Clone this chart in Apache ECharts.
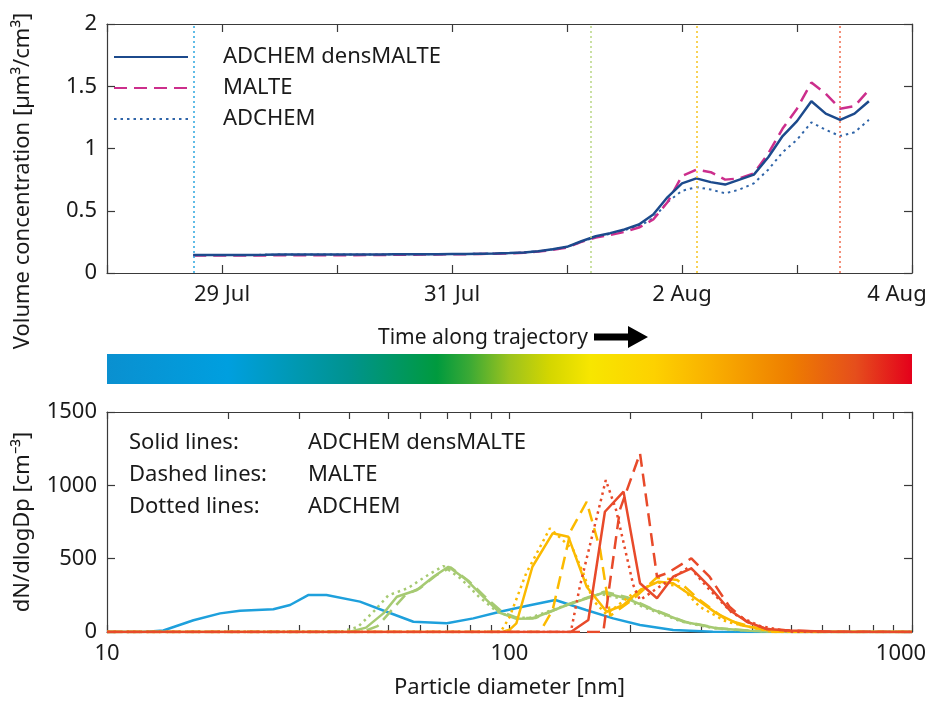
<!DOCTYPE html>
<html>
<head>
<meta charset="utf-8">
<script src="https://cdn.jsdelivr.net/npm/echarts@6/dist/echarts.min.js"></script>
<style>html,body{margin:0;background:#fff}#main{width:933px;height:704px}</style>
</head>
<body>
<div id="main"></div>
<script>
var chart = echarts.init(document.getElementById('main'));
var FONT = 'Noto Sans';
var TXT = '#1a1a1a';
var AX = '#3a3a3a';

// ---- top panel: time in hours since 28 Jul 00:00
var hours = [18,21,24,27,30,33,36,39,42,45,48,51,54,57,60,63,66,69,72,75,
             78,81,84,87,90,93,96,99,102,105,108,111,114,117,120,123,126,129,132,135,
             138,141,144,147,150,153,156,159];
var densMalte = [0.145,0.145,0.145,0.145,0.145,0.146,0.148,0.148,0.148,0.148,
                 0.148,0.148,0.148,0.149,0.150,0.151,0.151,0.151,0.152,0.153,
                 0.155,0.157,0.160,0.165,0.175,0.190,0.210,0.255,0.295,0.320,
                 0.350,0.390,0.470,0.610,0.720,0.760,0.730,0.710,0.750,0.790,
                 0.930,1.100,1.220,1.380,1.280,1.230,1.280,1.380];
var malte = [0.140,0.140,0.140,0.140,0.140,0.141,0.143,0.143,0.143,0.143,
             0.143,0.143,0.144,0.145,0.146,0.147,0.148,0.149,0.150,0.151,
             0.153,0.155,0.158,0.163,0.172,0.185,0.205,0.250,0.285,0.305,
             0.330,0.365,0.430,0.570,0.780,0.830,0.810,0.750,0.760,0.800,
             0.960,1.160,1.320,1.530,1.440,1.320,1.340,1.470];
var adchem = [0.145,0.145,0.145,0.145,0.145,0.146,0.148,0.148,0.148,0.148,
              0.148,0.148,0.148,0.149,0.150,0.151,0.151,0.151,0.152,0.153,
              0.155,0.157,0.160,0.165,0.175,0.190,0.210,0.250,0.290,0.315,
              0.345,0.375,0.440,0.570,0.660,0.690,0.670,0.640,0.670,0.720,
              0.830,0.970,1.070,1.210,1.150,1.100,1.130,1.230];
var dayTickHours = [24, 72, 120, 168];
var dayTickLabels = ['29 Jul', '31 Jul', '2 Aug', '4 Aug'];
var markHours = [18, 101, 123, 153];
var markColors = ['#2aa6df', '#b8d684', '#f7c51e', '#ef6a4c'];
var topNames = ['ADCHEM densMALTE', 'MALTE', 'ADCHEM'];

// ---- colour bar
var cbPos = [0, 0.15, 0.30, 0.41, 0.45, 0.50, 0.55, 0.60, 0.68, 0.75, 0.85, 0.93, 1];
var cbColors = ['#0a90d0', '#009fdf', '#00938f', '#009a3e', '#3aa935', '#9cc31d',
                '#d4d600', '#f7e600', '#fdd100', '#f9b000', '#ee7d00', '#e54e1c', '#e4001b'];

// ---- bottom panel: size distributions
var blueDp = [10,12.3,13.8,16.4,19.1,21.4,25.9,28.5,31.6,35.1,42.5,49.5,57.7,69.9,81.3,94.7,110,130,155,181,211,255,320,400,1000];
var blueSolid = [0,0,10,80,127,145,155,184,252,252,207,138,70,59,93,138,177,218,150,93,48,14,2,0,0];

var greenSolidDp = [10,40,44,48.6,52.5,58.9,64.7,70.5,78.3,86.1,94.7,104,114,139,171,195,223,271,327,395,500,1000];
var greenSolid = [0,0,30,127,240,286,377,445,354,240,130,90,92,184,268,230,161,70,25,9,0,0];
var greenDashDp = [10,43,47,51,55,60,66,71.5,79,87,96,105,116,140,172,197,225,273,330,400,500,1000];
var greenDash = [0,0,40,150,250,300,390,440,350,240,135,95,95,190,275,235,160,70,25,9,0,0];
var greenDotDp = [10,38,42,46,50,56,62,68.5,76,84,93,102,112,137,168,192,220,268,323,390,500,1000];
var greenDot = [0,0,35,140,250,300,380,450,360,240,140,100,95,180,260,225,160,70,25,9,0,0];

var yellowSolidDp = [10,96,100,104,114,128,140,155.5,174.4,192,211,234.5,255,286,327,374,436,550,1000];
var yellowSolid = [0,0,15,59,445,673,650,309,138,184,286,343,332,240,127,48,14,0,0];
var yellowDashDp = [10,119,128,142,155.5,168,178,203,232,261,297,346,450,1000];
var yellowDash = [0,0,150,690,888,560,110,225,370,355,218,82,0,0];
var yellowDotDp = [10,95,100,110,126,144,152.6,161,174,203,232,266,297,346,450,1000];
var yellowDot = [0,0,100,400,707,560,400,218,120,264,340,309,172,70,0,0];

var redSolidDp = [10,142,157,172.6,192,211,232.5,255,283,314,352,389,436,496,600,700,1000];
var redSolid = [0,0,82,820,957,332,230,377,434,309,150,70,20,10,3,0,0];
var redDashDp = [10,171,178,188,211,232.5,246,283,314,352,389,436,496,600,1000];
var redDash = [0,0,355,832,1218,377,400,502,377,172,70,20,10,3,0];
var redDotDp = [10,142,149.5,173.5,184,203,211,246,280,309,358,420,500,1000];
var redDot = [0,0,309,1036,832,320,218,343,445,309,127,40,0,0];

var styleLabels = ['Solid lines:', 'Dashed lines:', 'Dotted lines:'];
var modelLabels = ['ADCHEM densMALTE', 'MALTE', 'ADCHEM'];

var BLUE = '#1ea0dc', GREEN = '#a6ca72', YELLOW = '#fbba00', RED = '#e84a2a';
var DASH = [13, 7], DOT = [2.5, 4];

function pairs(xs, ys) {
  return xs.map(function (x, i) { return [x, ys[i]]; });
}
function distLine(xs, ys, color, type) {
  return {
    type: 'line', xAxisIndex: 2, yAxisIndex: 2, data: pairs(xs, ys),
    symbol: 'none', silent: true,
    lineStyle: { color: color, width: 2.5, type: type }
  };
}
function boxAxis(grid, pos, extra) {
  var a = {
    gridIndex: grid, position: pos,
    axisLine: { show: true, onZero: false, lineStyle: { color: AX, width: 1.2 } },
    axisTick: { show: true, inside: true, length: 8, lineStyle: { color: AX, width: 1.2 } },
    axisLabel: { show: false },
    splitLine: { show: false }
  };
  return Object.assign(a, extra);
}
function plain(v) { return String(v); }
var labelStyle = { fontFamily: FONT, fontSize: 22, color: TXT };
// the last tick label on each x axis is pulled left so it stays on the page
var edgeRich = {
  day: { fontFamily: FONT, fontSize: 22, color: TXT, padding: [0, 30, 0, 0] },
  dp: { fontFamily: FONT, fontSize: 22, color: TXT, padding: [0, 22, 0, 0] }
};
var logTick = { show: true, inside: true, length: 7, lineStyle: { color: AX, width: 1.2 } };
var logMinor = { show: true, splitNumber: 9, length: 7, lineStyle: { color: AX, width: 1.2 } };

var option = {
  animation: false,
  backgroundColor: '#fff',
  grid: [
    { left: 107, top: 24, width: 805, height: 249, containLabel: false, outerBoundsMode: 'none' },
    { left: 107, top: 412, width: 805, height: 220, containLabel: false, outerBoundsMode: 'none' }
  ],
  legend: {
    data: topNames, orient: 'vertical', left: 108, top: 41,
    itemWidth: 74, itemHeight: 14, itemGap: 9,
    itemStyle: { opacity: 0 },
    textStyle: { fontFamily: FONT, fontSize: 22, color: TXT, lineHeight: 22, padding: [0, 0, 0, 30] }
  },
  xAxis: [
    boxAxis(0, 'bottom', {
      type: 'value', min: 0, max: 168, interval: 24,
      axisLabel: Object.assign({ show: true, margin: 11, rich: edgeRich, formatter: function (v) {
        var i = dayTickHours.indexOf(v);
        if (i < 0) return '';
        return i === dayTickHours.length - 1 ? '{day|' + dayTickLabels[i] + '}' : dayTickLabels[i];
      } }, labelStyle)
    }),
    boxAxis(0, 'top', { type: 'value', min: 0, max: 168, interval: 24 }),
    boxAxis(1, 'bottom', {
      type: 'log', logBase: 10, min: 10, max: 1000,
      axisTick: logTick,
      minorTick: logMinor,
      axisLabel: Object.assign({ show: true, margin: 11, rich: edgeRich, formatter: function (v) {
        return v >= 1000 ? '{dp|' + v + '}' : String(v);
      } }, labelStyle),
      name: 'Particle diameter [nm]', nameLocation: 'middle', nameGap: 45,
      nameTextStyle: labelStyle
    }),
    boxAxis(1, 'top', {
      type: 'log', logBase: 10, min: 10, max: 1000,
      axisTick: logTick,
      minorTick: logMinor
    })
  ],
  yAxis: [
    boxAxis(0, 'left', { type: 'value', min: 0, max: 2, interval: 0.5,
      axisLabel: Object.assign({ show: true, margin: 10, formatter: plain }, labelStyle) }),
    boxAxis(0, 'right', { type: 'value', min: 0, max: 2, interval: 0.5 }),
    boxAxis(1, 'left', { type: 'value', min: 0, max: 1500, interval: 500,
      axisLabel: Object.assign({ show: true, margin: 10, formatter: plain }, labelStyle) }),
    boxAxis(1, 'right', { type: 'value', min: 0, max: 1500, interval: 500 })
  ],
  graphic: [
    { type: 'text', x: 23, y: 181, rotation: Math.PI / 2,
      style: { text: 'Volume concentration [µm³/cm³]', font: '22px "Noto Sans"', fill: TXT, align: 'center', verticalAlign: 'middle' } },
    { type: 'text', x: 23, y: 522, rotation: Math.PI / 2,
      style: { text: 'dN/dlogDp [cm⁻³]', font: '22px "Noto Sans"', fill: TXT, align: 'center', verticalAlign: 'middle' } },
    { type: 'text', x: 378, y: 338,
      style: { text: 'Time along trajectory', font: '21px "Noto Sans"', fill: TXT, align: 'left', verticalAlign: 'middle' } },
    { type: 'polygon', shape: { points: [[594, 333.5], [628, 333.5], [628, 326], [648, 337], [628, 348], [628, 340.5], [594, 340.5]] },
      style: { fill: '#000' } },
    { type: 'rect', shape: { x: 107, y: 354, width: 805, height: 30 },
      style: { fill: new echarts.graphic.LinearGradient(0, 0, 1, 0,
        cbPos.map(function (p, i) { return { offset: p, color: cbColors[i] }; })) } }
  ].concat(styleLabels.map(function (t, i) {
    return { type: 'text', x: 129, y: 443 + i * 32,
      style: { text: t, font: '22px "Noto Sans"', fill: TXT, verticalAlign: 'middle' } };
  })).concat(modelLabels.map(function (t, i) {
    return { type: 'text', x: 308, y: 443 + i * 32,
      style: { text: t, font: '22px "Noto Sans"', fill: TXT, verticalAlign: 'middle' } };
  })),
  series: [
    { name: topNames[2], type: 'line', xAxisIndex: 0, yAxisIndex: 0, data: pairs(hours, adchem),
      symbol: 'none', lineStyle: { color: '#2f64a8', width: 2, type: DOT },
      markLine: { silent: true, symbol: ['none', 'none'], label: { show: false },
        data: markHours.map(function (h, i) {
          return { xAxis: h, lineStyle: { color: markColors[i], width: 1.5, type: [2, 3] } };
        }) } },
    { name: topNames[1], type: 'line', xAxisIndex: 0, yAxisIndex: 0, data: pairs(hours, malte),
      symbol: 'none', lineStyle: { color: '#cc2e8c', width: 2.5, type: DASH } },
    { name: topNames[0], type: 'line', xAxisIndex: 0, yAxisIndex: 0, data: pairs(hours, densMalte),
      symbol: 'none', lineStyle: { color: '#1c4a8c', width: 2.5 } },

    distLine(blueDp, blueSolid, BLUE, 'solid'),
    distLine(greenDotDp, greenDot, GREEN, DOT),
    distLine(greenDashDp, greenDash, GREEN, DASH),
    distLine(greenSolidDp, greenSolid, GREEN, 'solid'),
    distLine(yellowDotDp, yellowDot, YELLOW, DOT),
    distLine(yellowDashDp, yellowDash, YELLOW, DASH),
    distLine(yellowSolidDp, yellowSolid, YELLOW, 'solid'),
    distLine(redDotDp, redDot, RED, DOT),
    distLine(redDashDp, redDash, RED, DASH),
    distLine(redSolidDp, redSolid, RED, 'solid')
  ]
};
chart.setOption(option);
</script>
</body>
</html>
